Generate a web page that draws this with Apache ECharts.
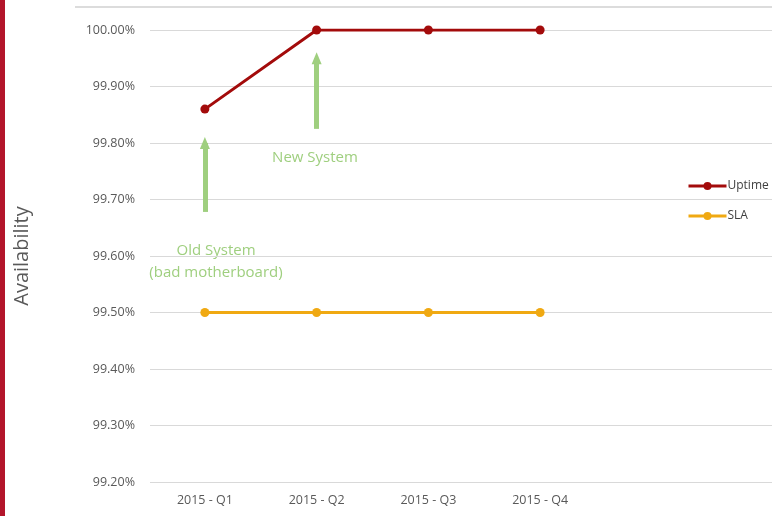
<!DOCTYPE html>
<html>
<head>
<meta charset="utf-8">
<script src="https://cdn.jsdelivr.net/npm/echarts@6/dist/echarts.min.js"></script>
<style>
  html, body { margin: 0; padding: 0; background: #fff; }
  #chart { width: 772px; height: 516px; }
</style>
</head>
<body>
<div id="chart"></div>
<script>
const quarters = ['2015 - Q1', '2015 - Q2', '2015 - Q3', '2015 - Q4']
const uptime = [99.86, 100.0, 100.0, 100.0]
const sla = [99.5, 99.5, 99.5, 99.5]
// annotation arrows: [category index, from, to]
const arrows = [[0, 99.678, 99.80], [1, 99.825, 99.95]]

const labelFont = { fontFamily: 'Open Sans', fontSize: 12.5, color: '#595959' }
const green = '#9fcf7f'

const chart = echarts.init(document.getElementById('chart'))
chart.setOption({
  animation: false,
  grid: [
    { left: 150, right: 0, top: 30, bottom: 34 },
    { left: 149, width: 447, top: 30, bottom: 34 }
  ],
  legend: {
    orient: 'vertical',
    left: 682,
    top: 175,
    itemWidth: 38,
    itemHeight: 10,
    itemGap: 18,
    lineStyle: { width: 3 },
    textStyle: { fontFamily: 'Open Sans', fontSize: 12, color: '#404040', padding: [0, 0, 0, -4] },
    data: ['Uptime', 'SLA']
  },
  xAxis: [
    { gridIndex: 0, type: 'value', show: false, min: 0, max: 1 },
    {
      gridIndex: 1,
      type: 'category',
      data: quarters,
      axisLine: { show: false },
      axisTick: { show: false },
      axisLabel: Object.assign({ margin: 12 }, labelFont)
    }
  ],
  yAxis: [
    {
      gridIndex: 0,
      type: 'value',
      min: 99.2,
      max: 100.0,
      interval: 0.1,
      name: 'Availability',
      nameLocation: 'middle',
      nameRotate: 90,
      nameGap: 118,
      nameTextStyle: { fontFamily: 'Open Sans', fontSize: 20, color: '#595959' },
      axisLine: { show: false },
      axisTick: { show: false },
      axisLabel: Object.assign({ margin: 15, formatter: v => v.toFixed(2) + '%' }, labelFont),
      splitLine: { lineStyle: { color: '#d9d9d9', width: 1 } }
    },
    {
      gridIndex: 1,
      type: 'value',
      min: 99.2,
      max: 100.0,
      interval: 0.1,
      show: false
    }
  ],
  graphic: [
    { type: 'rect', shape: { x: 75, y: 6, width: 697, height: 2 }, style: { fill: '#dcdcdc' } },
    { type: 'rect', shape: { x: 0, y: 0, width: 5, height: 516 }, style: { fill: '#b3152b' } },
    { type: 'text', x: 315, y: 150, style: { text: 'New System', font: '15px "Open Sans"', fill: green, align: 'center' } },
    { type: 'text', x: 216, y: 240, style: { text: 'Old System\n(bad motherboard)', font: '15px "Open Sans"', fill: green, align: 'center', lineHeight: 22 } }
  ],
  series: [
    {
      name: 'Uptime',
      type: 'line',
      xAxisIndex: 1,
      yAxisIndex: 1,
      data: uptime,
      color: '#a30b0b',
      symbol: 'circle',
      symbolSize: 9,
      lineStyle: { width: 3 },
      markLine: {
        silent: true,
        symbol: ['none', 'triangle'],
        symbolSize: [10, 12],
        label: { show: false },
        lineStyle: { color: green, width: 5, type: 'solid' },
        data: arrows.map(a => [{ coord: [a[0], a[1]] }, { coord: [a[0], a[2]] }])
      }
    },
    {
      name: 'SLA',
      type: 'line',
      xAxisIndex: 1,
      yAxisIndex: 1,
      data: sla,
      color: '#f0a912',
      symbol: 'circle',
      symbolSize: 9,
      lineStyle: { width: 3 }
    }
  ]
})
</script>
</body>
</html>
